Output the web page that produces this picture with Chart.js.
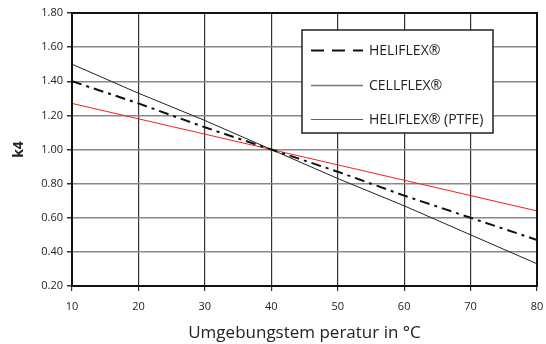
<!DOCTYPE html>
<html>
<head>
<meta charset="utf-8">
<script src="https://cdn.jsdelivr.net/npm/chart.js@4"></script>
<style>
  html, body { margin: 0; padding: 0; background: #fff; }
  #wrap { width: 546px; height: 344px; }
</style>
</head>
<body>
<div id="wrap"><canvas id="k4chart" width="546" height="344"></canvas></div>
<script>
(function () {

// -------------------------------------------------------------------------------------------------------

var temps = [10, 20, 30, 40, 50, 60, 70, 80];
var heliflex = [1.40, 1.27, 1.13, 1.00, 0.87, 0.73, 0.60, 0.47];
var cellflex = [1.50, 1.33, 1.17, 1.00, 0.83, 0.67, 0.50, 0.33];
var heliflexPtfe = [1.27, 1.18, 1.09, 1.00, 0.91, 0.82, 0.73, 0.64];
var seriesNames = ['HELIFLEX\u00AE', 'CELLFLEX\u00AE', 'HELIFLEX\u00AE (PTFE)'];

var FONT = '"Open Sans", "DejaVu Sans", sans-serif';

function pts(vals) {
    return vals.map(function (v, i) { return { x: temps[i], y: v }; });
}

// frame around plot + legend box inside the plot
var framePlugin = {
    id: 'frameAndLegend',
    afterDraw: function (chart) {
        var ctx = chart.ctx, a = chart.chartArea;
        ctx.save();
        ctx.strokeStyle = '#111';
        ctx.lineWidth = 2;
        ctx.strokeRect(a.left, a.top, a.right - a.left, a.bottom - a.top);

        // legend box
        var bx = 302, by = 30, bw = 191, bh = 103;
        ctx.fillStyle = '#fff';
        ctx.fillRect(bx, by, bw, bh);
        ctx.strokeStyle = '#222';
        ctx.lineWidth = 1.5;
        ctx.strokeRect(bx, by, bw, bh);

        var rows = [50, 85, 119];
        var styles = [
            { color: '#111', width: 2.2, dash: [13, 8] },
            { color: '#777', width: 1.3, dash: [] },
            { color: '#ee2222', width: 1, dash: [] }
        ];
        ctx.font = '14px ' + FONT;
        ctx.textBaseline = 'middle';
        for (var i = 0; i < rows.length; i++) {
            ctx.beginPath();
            ctx.strokeStyle = styles[i].color;
            ctx.lineWidth = styles[i].width;
            ctx.setLineDash(styles[i].dash);
            ctx.moveTo(311, rows[i] + 0.5);
            ctx.lineTo(363, rows[i] + 0.5);
            ctx.stroke();
            ctx.setLineDash([]);
            ctx.fillStyle = '#222';
            ctx.fillText(seriesNames[i], 369, rows[i] + 1);
        }
        ctx.restore();
    }
};

new Chart(document.getElementById('k4chart').getContext('2d'), {
    type: 'line',
    data: {
        datasets: [{
            label: seriesNames[0],
            data: pts(heliflex),
            borderColor: '#111',
            borderWidth: 2,
            borderDash: [10, 5, 3, 5],
            pointRadius: 0,
            fill: false
        }, {
            label: seriesNames[1],
            data: pts(cellflex),
            borderColor: '#222',
            borderWidth: 1,
            pointRadius: 0,
            fill: false
        }, {
            label: seriesNames[2],
            data: pts(heliflexPtfe),
            borderColor: '#ee2222',
            borderWidth: 1,
            pointRadius: 0,
            fill: false
        }]
    },
    options: {
        responsive: false,
        animation: false,
        layout: { padding: { top: 13, right: 9, left: 0, bottom: 0 } },
        plugins: {
            legend: { display: false },
            tooltip: { enabled: false }
        },
        scales: {
            x: {
                type: 'linear',
                min: 10,
                max: 80,
                afterFit: function (s) {
                    s.height = 58;
                    s.paddingLeft = 0;
                    s.paddingRight = 0;
                },
                ticks: {
                    stepSize: 10,
                    color: '#222',
                    font: { family: FONT, size: 11 },
                    padding: 9
                },
                grid: { color: '#333', lineWidth: 1.2, tickLength: 5, tickColor: '#333' },
                border: { display: false },
                title: {
                    display: true,
                    text: 'Umgebungstem peratur in \u00B0C',
                    color: '#222',
                    font: { family: FONT, size: 17 },
                    padding: { top: 6, bottom: 1 }
                }
            },
            y: {
                min: 0.2,
                max: 1.8,
                afterFit: function (s) { s.width = 72; },
                ticks: {
                    stepSize: 0.2,
                    color: '#222',
                    font: { family: FONT, size: 11 },
                    padding: 4,
                    callback: function (v) { return v.toFixed(2); }
                },
                grid: { color: '#888', lineWidth: 1.5, tickLength: 5, tickColor: '#333' },
                border: { display: false },
                title: {
                    display: true,
                    text: 'k4',
                    color: '#222',
                    font: { family: FONT, size: 14, weight: 'bold' },
                    padding: { top: 11, bottom: 4 }
                }
            }
        }
    },
    plugins: [framePlugin]
});

// -------------------------------------------------------------------------------------------------------

})();
</script>
</body>
</html>
